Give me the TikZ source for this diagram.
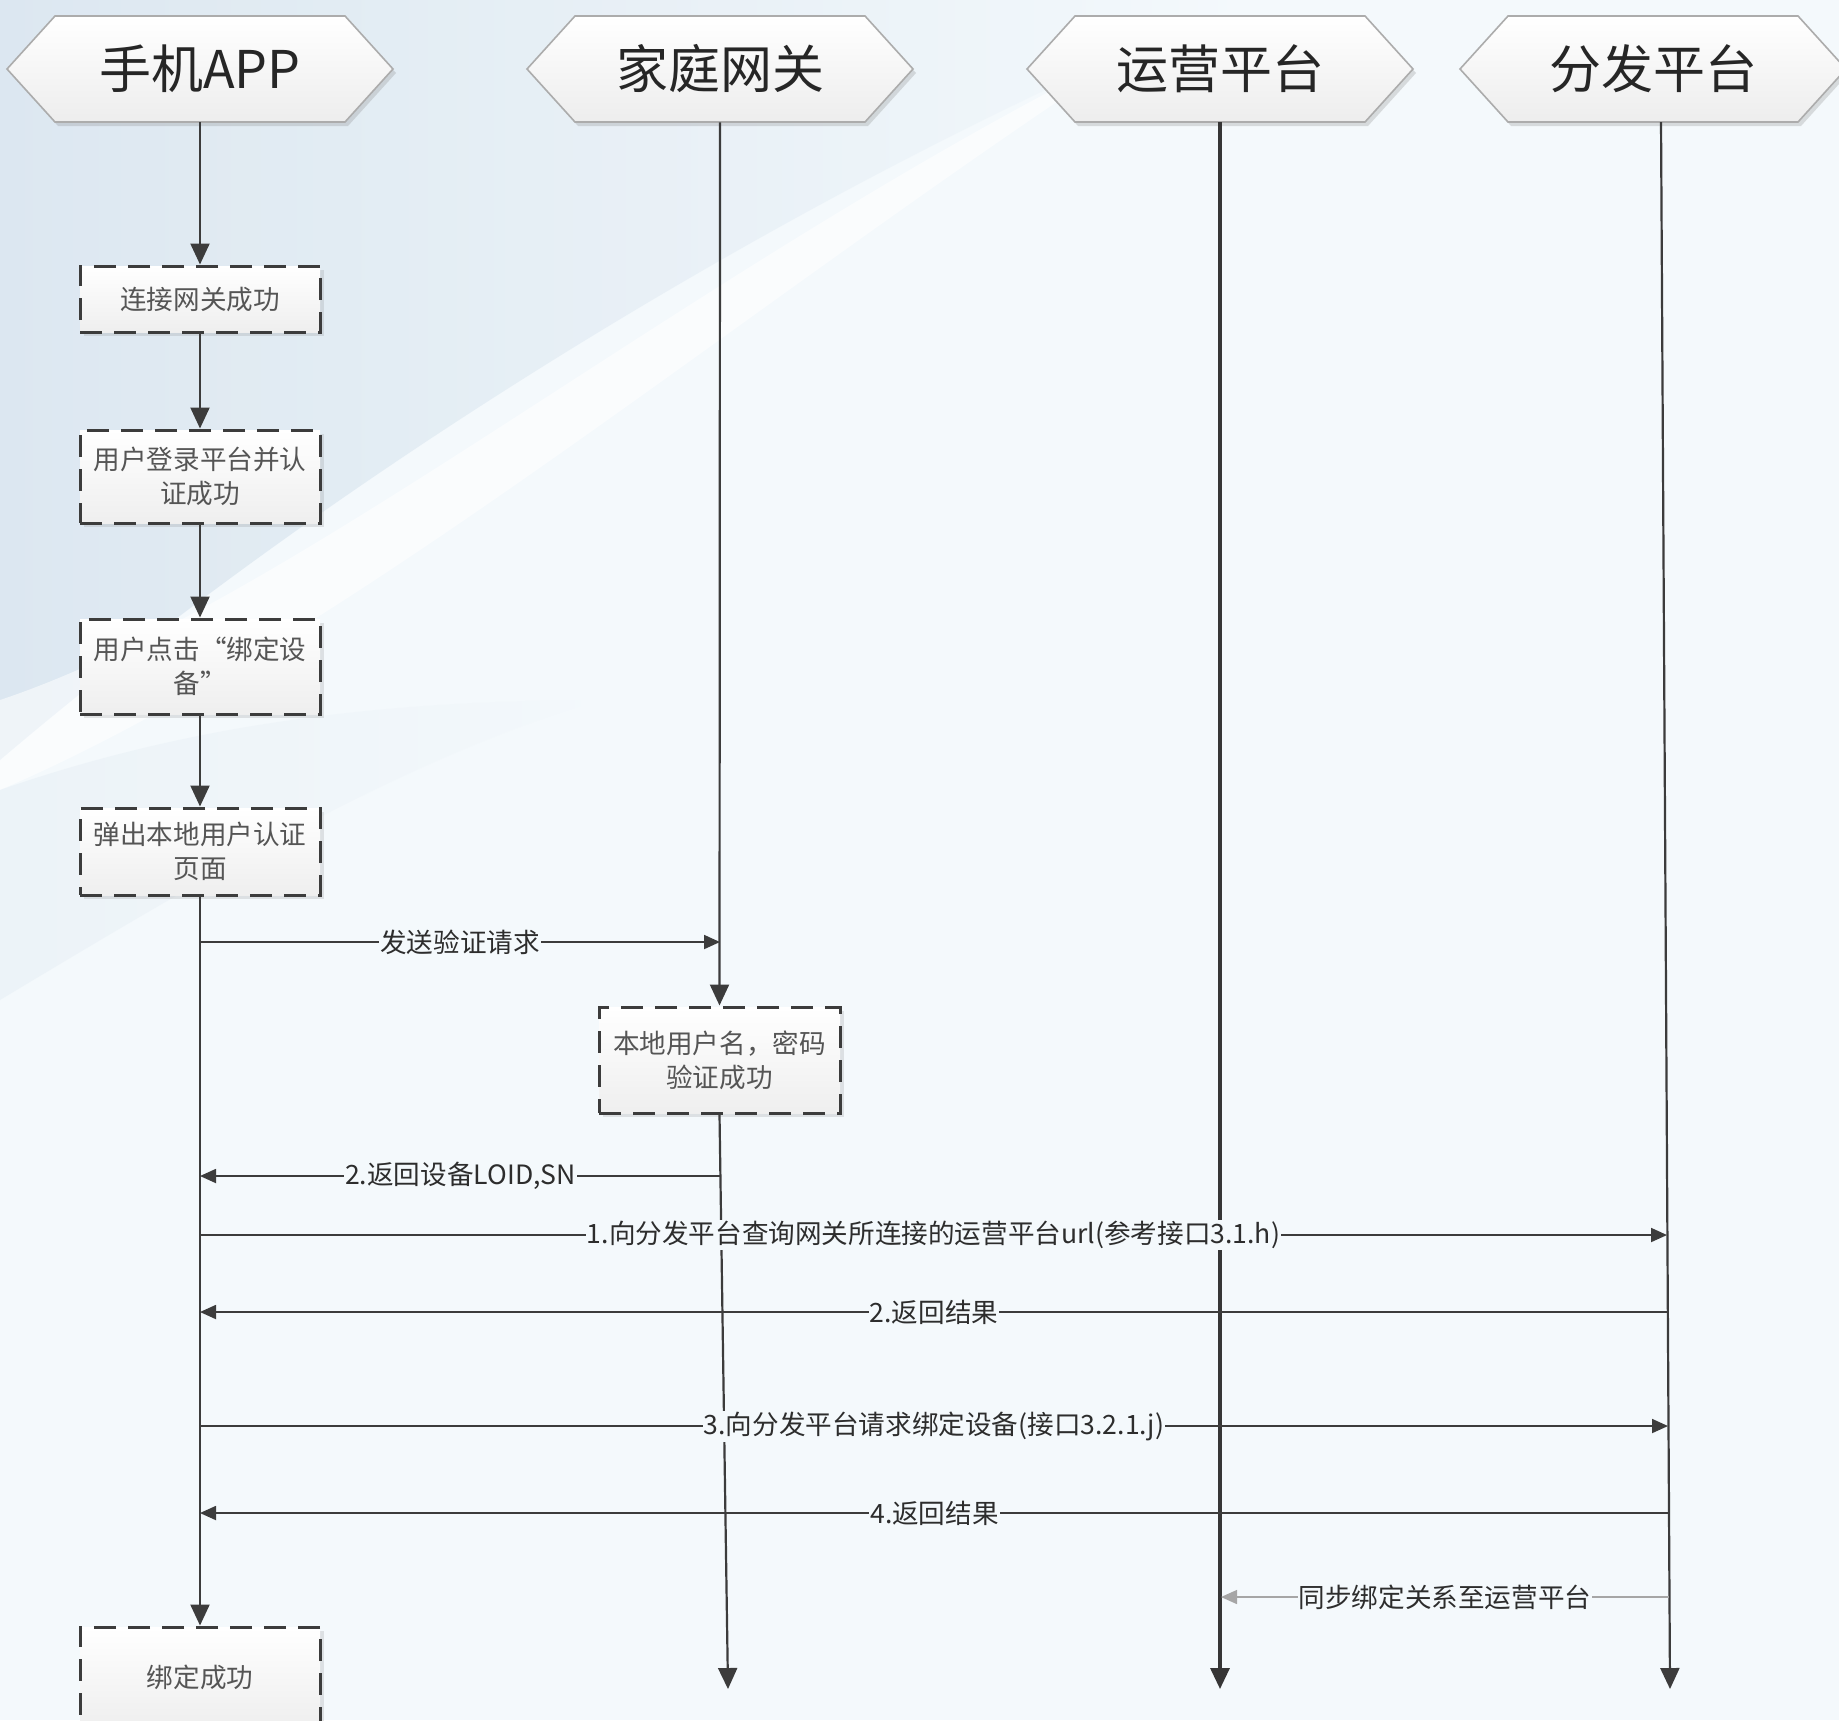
\documentclass[tikz,border=0pt]{standalone}
\usepackage{fontspec}
\setmainfont{Noto Sans CJK SC}
\usetikzlibrary{arrows.meta,shadows,calc}
\definecolor{bgc}{RGB}{244,249,252}
\definecolor{bgblue}{RGB}{218,230,240}
\definecolor{linec}{RGB}{60,60,60}
\definecolor{boxtext}{RGB}{85,85,85}
\definecolor{lbltext}{RGB}{45,45,45}
\tikzset{
  hexshape/.style={draw=gray!65, line width=0.8pt, top color=white, bottom color=gray!14,
    drop shadow={shadow xshift=1.5pt, shadow yshift=-2pt, opacity=0.25}},
  hextext/.style={inner sep=0pt, minimum width=193pt, minimum height=53pt,
    font=\fontsize{26}{30}\selectfont, text=black!85},
  stepbox/.style={draw=linec, line width=1.5pt, dash pattern=on 11pt off 6pt,
    top color=white, bottom color=gray!13, minimum width=120pt, inner sep=2pt,
    align=center, text=boxtext, font=\fontsize{13.3}{17}\selectfont,
    drop shadow={shadow xshift=2pt, shadow yshift=-2pt, opacity=0.2}},
  life/.style={draw=linec, line width=1.1pt, -{Triangle[length=10.5pt,width=9.5pt]}},
  lifethick/.style={draw=linec!90!black, line width=1.6pt, -{Triangle[length=10.5pt,width=9.5pt]}},
  msg/.style={draw=linec, line width=0.9pt, -{Triangle[length=8pt,width=7pt]}},
  msglight/.style={draw=gray!70, line width=0.7pt, -{Triangle[length=8pt,width=7pt]}},
  lbl/.style={fill=bgc, inner sep=0.5pt, text=lbltext, font=\fontsize{13.3}{15}\selectfont},
}
\newcommand\myhex[3]{%
  \path[hexshape] (#2-193,69) -- (#2-145,16) -- (#2+145,16) -- (#2+193,69)
    -- (#2+145,122) -- (#2-145,122) -- cycle;
  \node[hextext] (#1) at (#2,69) {#3};
}
\begin{document}
\begin{tikzpicture}[x=0.5pt,y=-0.5pt]
\useasboundingbox (0,0) rectangle (1839,1720);
% background
\fill[bgc] (0,0) rectangle (1839,1720);
\shade[left color=bgblue, right color=bgc, opacity=0.9]
  (0,0) -- (1250,0) .. controls (900,140) and (400,420) .. (0,760) -- cycle;
\fill[white, opacity=0.55]
  (0,700) .. controls (300,600) and (700,260) .. (1150,40)
  .. controls (750,300) and (350,640) .. (0,790) -- cycle;
\shade[left color=bgblue!70, right color=bgc, opacity=0.5]
  (0,790) .. controls (200,720) and (400,700) .. (600,700)
  .. controls (400,760) and (200,880) .. (0,1000) -- cycle;

% hexagons (lifeline heads)
\myhex{h1}{200}{手机APP}
\myhex{h2}{720}{家庭网关}
\myhex{h3}{1220}{运营平台}
\myhex{h4}{1653}{分发平台}

% coordinates on lifelines
\coordinate (l4top) at (1661,122);
\coordinate (e2) at (728,1689);
\coordinate (e3) at (1220,1689);
\coordinate (e4) at (1670,1689);
\coordinate (a1) at (200,942);
\coordinate (g1) at (720,942);
\coordinate (g2) at (721,1176);
\coordinate (a2) at (200,1176);
\coordinate (a3) at (200,1235);
\coordinate (f3) at (1667,1235);
\coordinate (f4) at (1668,1312);
\coordinate (a4) at (200,1312);
\coordinate (a5) at (200,1426);
\coordinate (f5) at (1668,1426);
\coordinate (f6) at (1669,1513);
\coordinate (a6) at (200,1513);
\coordinate (f7) at (1669,1597);
\coordinate (o7) at (1221,1597);

% step boxes
\node[stepbox, minimum height=33pt] (b1) at (200,299) {连接网关成功};
\node[stepbox, minimum height=46.5pt] (b2) at (200,476.5) {用户登录平台并认\\证成功};
\node[stepbox, minimum height=47.5pt] (b3) at (200,666.5) {用户点击“绑定设\\备”};
\node[stepbox, minimum height=43.5pt] (b4) at (200,851.5) {弹出本地用户认证\\页面};
\node[stepbox, minimum height=53pt, minimum width=120.5pt] (b5) at (719.5,1060) {本地用户名，密码\\验证成功};
\node[stepbox, minimum height=50pt] (b6) at (200,1677) {绑定成功};

% lifelines
\draw[life] (h1.south) -- (b1.north);
\draw[life] (b1.south) -- (b2.north);
\draw[life] (b2.south) -- (b3.north);
\draw[life] (b3.south) -- (b4.north);
\draw[life] (b4.south) -- (b6.north);
\draw[life] (h2.south) -- (b5.north);
\draw[life] (b5.south) -- (e2);
\draw[lifethick] (h3.south) -- (e3);
\draw[life] (l4top) -- (e4);

% messages
\draw[msg] (a1) -- node[lbl] {发送验证请求} (g1);
\draw[msg] (g2) -- node[lbl] {2.返回设备LOID,SN} (a2);
\draw[msg] (a3) -- node[lbl] {1.向分发平台查询网关所连接的运营平台url(参考接口3.1.h)} (f3);
\draw[msg] (f4) -- node[lbl] {2.返回结果} (a4);
\draw[msg] (a5) -- node[lbl] {3.向分发平台请求绑定设备(接口3.2.1.j)} (f5);
\draw[msg] (f6) -- node[lbl] {4.返回结果} (a6);
\draw[msglight] (f7) -- node[lbl] {同步绑定关系至运营平台} (o7);
\end{tikzpicture}
\end{document}
